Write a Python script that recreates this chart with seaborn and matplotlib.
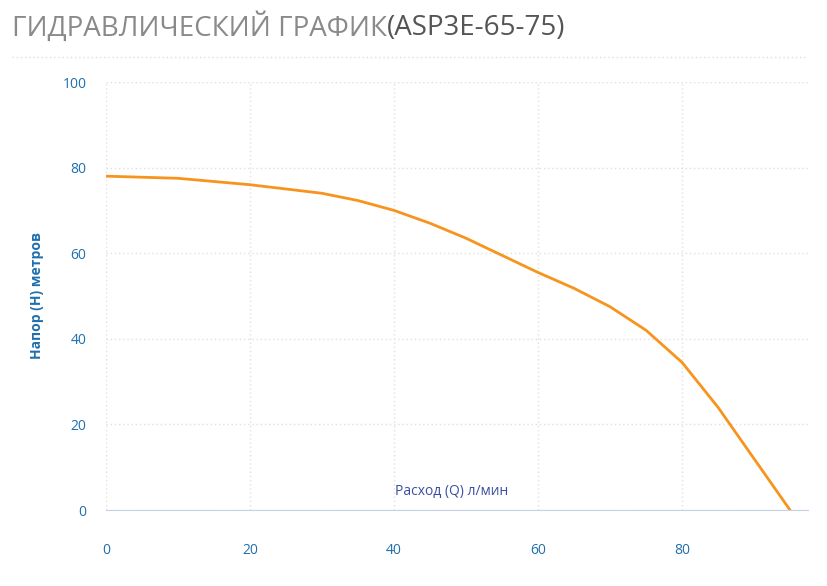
import matplotlib.pyplot as plt
import pandas as pd
import seaborn as sns

# данные кривой (Q л/мин -> H метров)
flow = [0, 10, 20, 30, 35, 40, 45, 50, 55, 60, 65, 70, 75, 80, 85, 90, 95]
head = [78, 77.5, 76, 74, 72.3, 70, 67, 63.5, 59.5, 55.5, 51.8, 47.5, 42, 34.5, 24, 12, 0]
x_ticks = [0, 20, 40, 60, 80]
y_ticks = [0, 20, 40, 60, 80, 100]

sns.set_style("white")
plt.rcParams["font.family"] = ["Open Sans", "DejaVu Sans"]

blue = "#1f6fae"
fig = plt.figure(figsize=(8.27, 5.86), dpi=100)
ax = fig.add_axes([106 / 827, 1 - 510 / 586, (808 - 106) / 827, (510 - 82) / 586])

df = pd.DataFrame({"Q": flow, "H": head})
sns.lineplot(data=df, x="Q", y="H", ax=ax, color="#f7941d", linewidth=2)

ax.set_xlim(0, 97.5)
ax.set_ylim(0, 100)
ax.set_xticks(x_ticks)
ax.set_yticks(y_ticks)
ax.grid(True, color="#e0e0e0", linestyle=(0, (1, 2)), linewidth=1)
for s in ["top", "right", "left"]:
    ax.spines[s].set_visible(False)
ax.spines["bottom"].set_color("#c8d2e6")
ax.tick_params(axis="y", length=0, colors=blue, labelsize=10, pad=14)
ax.tick_params(axis="x", length=0, colors=blue, labelsize=10, pad=24)
ax.set_xlabel("")
ax.set_ylabel("Напор (H) метров", color=blue, fontsize=10, fontweight="bold", labelpad=6)
ax.yaxis.set_label_coords(-62 / 702, 0.5)
ax.text(48, 2.5, "Расход (Q) л/мин", color="#3b4fa0", fontsize=10, ha="center", va="bottom")

fig.text(12 / 827, 1 - 28 / 586, "ГИДРАВЛИЧЕСКИЙ ГРАФИК", color="#8a8a8a", fontsize=20, va="center")
fig.text(387 / 827, 1 - 28 / 586, "(ASP3E-65-75)", color="#555555", fontsize=20, va="center")
fig.add_artist(plt.Line2D([12 / 827, 808 / 827], [1 - 57 / 586] * 2, color="#dddddd",
                          linestyle=(0, (1, 2)), linewidth=1))

fig.savefig("out.png", dpi=100)
